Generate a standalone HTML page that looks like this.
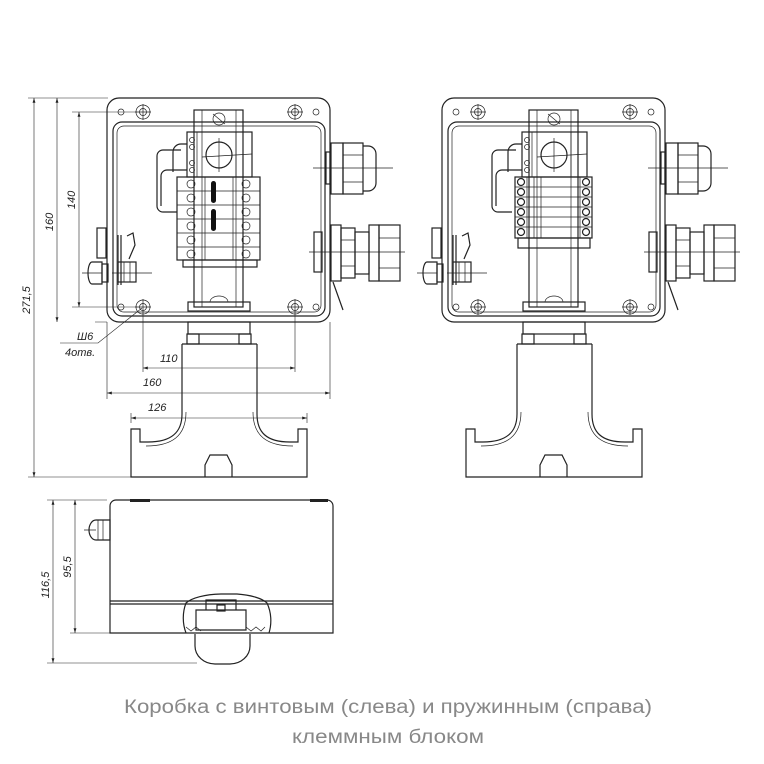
<!DOCTYPE html>
<html><head><meta charset="utf-8"><style>
html,body{margin:0;padding:0;background:#fff;width:764px;height:764px;overflow:hidden}
svg{display:block}
.l{fill:none;stroke:#222;stroke-width:1.2}
.t{fill:none;stroke:#222;stroke-width:0.7}
.d{fill:none;stroke:#222;stroke-width:0.6}
.dim{font-family:"Liberation Sans",sans-serif;font-size:11px;font-style:italic;fill:#222}
</style></head><body>
<svg width="764" height="764" viewBox="0 0 764 764" xmlns="http://www.w3.org/2000/svg">
<defs>
<marker id="a" viewBox="0 0 10 6" refX="10" refY="3" markerWidth="8" markerHeight="5" orient="auto-start-reverse"><path d="M0,0 L10,3 L0,6" fill="#222"/></marker>
<g id="box">
 <rect class="l" x="107" y="98" width="223" height="224" rx="12"/>
 <rect class="l" x="113" y="122" width="212" height="194" rx="9"/>
 <rect class="t" x="117" y="126" width="204" height="186" rx="7"/>
 <g class="t">
  <circle cx="143" cy="112" r="7"/><circle cx="143" cy="112" r="3.5"/>
  <circle cx="295" cy="112" r="7"/><circle cx="295" cy="112" r="3.5"/>
  <circle cx="143" cy="307" r="7"/><circle cx="143" cy="307" r="3.5"/>
  <circle cx="295" cy="307" r="7"/><circle cx="295" cy="307" r="3.5"/>
  <circle cx="121" cy="112" r="3"/><circle cx="316" cy="112" r="3"/>
  <circle cx="121" cy="307" r="3"/><circle cx="316" cy="307" r="3"/>
  <path d="M135,112h16M143,104v16M287,112h16M295,104v16M135,307h16M143,299v16M287,307h16M295,299v16"/>
 </g>
 <rect class="l" x="194" y="110" width="49" height="197"/>
 <path class="t" d="M202,110v197M236,110v197"/>
 <circle class="t" cx="219" cy="119" r="6"/>
 <path class="t" d="M213,114l12,10"/>
 <rect class="l" x="187" y="132" width="65" height="45" fill="#fff"/>
 <circle class="l" cx="219" cy="155" r="13"/>
 <path class="t" d="M219,138v34M202,157l50,-3M197,132v45M236,132v45"/>
 <circle class="t" cx="192" cy="140" r="2.5"/><circle class="t" cx="192" cy="147" r="2.5"/>
 <circle class="t" cx="192" cy="163" r="2.5"/><circle class="t" cx="192" cy="170" r="2.5"/>
 <rect class="l" x="188" y="302" width="62" height="9"/>
 <path class="t" d="M210,302a9,6 0 0 1 18,0"/>
 <path class="l" d="M187,144h-6a8,8 0 0 0 -8,8v20M181,150h-18a6,6 0 0 0 -6,6v50a6,6 0 0 0 6,6h14M187,170h-20a6,6 0 0 0 -6,6v30"/>
 <rect class="l" x="188" y="322" width="62" height="12"/>
 <rect class="l" x="187" y="334" width="12" height="10"/>
 <rect class="l" x="239" y="334" width="12" height="10"/>
 <path class="l" d="M182,344h75M182,344v70M257,344v70"/>
 <path class="l" d="M182,414C182,432 172,442 148,442h-8v-13h-9v48h176v-13v-35h-9v13h-8C266,442 257,432 257,414"/>
 <path class="t" d="M186,412C186,436 172,446 146,446"/>
 <path class="t" d="M253,412C253,436 267,446 293,446"/>
 <path class="l" d="M205,477v-12l5,-10h17l5,10v12"/>
 <rect class="l" x="331" y="143" width="12" height="51"/>
 <rect class="l" x="343" y="143" width="20" height="51"/>
 <path class="l" d="M363,146h5a8,8 0 0 1 8,8v29a8,8 0 0 1 -8,8h-5"/>
 <path class="t" d="M343,155h20M343,182h20M313,168h80"/>
 <rect class="l" x="326" y="152" width="4" height="32"/>
 <rect class="l" x="331" y="225" width="10" height="56"/>
 <rect class="l" x="341" y="228" width="14" height="50"/>
 <rect class="l" x="355" y="232" width="14" height="42"/>
 <rect class="l" x="369" y="225" width="10" height="56"/>
 <rect class="l" x="379" y="225" width="21" height="56"/>
 <path class="t" d="M341,240h14M341,266h14M379,238h21M379,268h21M309,252h96"/>
 <rect class="l" x="314" y="232" width="8" height="40"/>
 <path class="l" d="M333,282l10,28"/>
 <rect class="l" x="97" y="228" width="9" height="30"/>
 <path class="l" d="M92,262h10v22h-10a4,11 0 0 1 0,-22z"/>
 <rect class="l" x="102" y="264" width="6" height="18"/>
 <path class="t" d="M82,273h20"/>
 <rect class="l" x="118" y="262" width="18" height="20"/>
 <path class="t" d="M112,273h40M124,262v20M130,262v20"/>
 <path class="l" d="M118,235v50M121,235v50"/>
 <path class="l" d="M127,236l6,-3l2,12l-6,14"/>
</g>
</defs>

<use href="#box"/>
<use href="#box" transform="translate(335,0)"/>

<g>
 <rect class="l" x="177" y="177" width="83" height="83" fill="#fff"/>
 <rect class="l" x="183" y="260" width="74" height="7"/>
 <path class="t" d="M177,191h83M177,205h83M177,219h83M177,233h83M177,247h83M205,177v83M233,177v83"/>
 <g class="t"><circle cx="191" cy="184" r="4"/><circle cx="191" cy="198" r="4"/><circle cx="191" cy="212" r="4"/><circle cx="191" cy="226" r="4"/><circle cx="191" cy="240" r="4"/><circle cx="191" cy="254" r="4"/>
 <circle cx="246" cy="184" r="4"/><circle cx="246" cy="198" r="4"/><circle cx="246" cy="212" r="4"/><circle cx="246" cy="226" r="4"/><circle cx="246" cy="240" r="4"/><circle cx="246" cy="254" r="4"/></g>
 <rect x="211" y="181" width="5" height="22" rx="2.5" fill="#111"/>
 <rect x="211" y="209" width="5" height="22" rx="2.5" fill="#111"/>
</g>
<g>
 <rect class="l" x="515" y="177" width="77" height="61" fill="#fff"/>
 <rect class="l" x="518" y="238" width="72" height="10"/>
 <path class="t" d="M515,187h77M515,197h77M515,207h77M515,217h77M515,227h77M527,177v61M534,177v61M541,177v61M580,177v61"/>
 <g class="l"><circle cx="521" cy="182" r="3.5"/><circle cx="521" cy="192" r="3.5"/><circle cx="521" cy="202" r="3.5"/><circle cx="521" cy="212" r="3.5"/><circle cx="521" cy="222" r="3.5"/><circle cx="521" cy="232" r="3.5"/>
 <circle cx="586" cy="182" r="3.5"/><circle cx="586" cy="192" r="3.5"/><circle cx="586" cy="202" r="3.5"/><circle cx="586" cy="212" r="3.5"/><circle cx="586" cy="222" r="3.5"/><circle cx="586" cy="232" r="3.5"/></g>
</g>

<g class="d">
 <path d="M28,98h80M28,477h103M50,98h57M72,112h65M72,307h65M95,322h12"/>
 <path d="M34,98V477" marker-start="url(#a)" marker-end="url(#a)"/>
 <path d="M57,98V322" marker-start="url(#a)" marker-end="url(#a)"/>
 <path d="M79,112V307" marker-start="url(#a)" marker-end="url(#a)"/>
 <path d="M143,315v57M295,315v57M107,322v77M330,322v77M131,413v10M307,413v10"/>
 <path d="M143,368H295" marker-start="url(#a)" marker-end="url(#a)"/>
 <path d="M107,393H330" marker-start="url(#a)" marker-end="url(#a)"/>
 <path d="M131,418H307" marker-start="url(#a)" marker-end="url(#a)"/>
 <path d="M142,308L98,343H60"/>
</g>
<text class="dim" transform="translate(30,300) rotate(-90)" text-anchor="middle">271,5</text>
<text class="dim" transform="translate(53,222) rotate(-90)" text-anchor="middle">160</text>
<text class="dim" transform="translate(75,200) rotate(-90)" text-anchor="middle">140</text>
<text class="dim" x="77" y="340">Ш6</text>
<text class="dim" x="65" y="356">4отв.</text>
<text class="dim" x="160" y="362">110</text>
<text class="dim" x="143" y="386">160</text>
<text class="dim" x="148" y="411">126</text>

<g>
 <path class="l" d="M110,633V506a6,6 0 0 1 6,-6h211a6,6 0 0 1 6,6v127z"/>
 <path class="l" d="M110,601h223M110,604h223"/>
 <path class="l" d="M186,633a30,36 0 0 1 0,-30a40,14 0 0 1 35,-9h16a40,14 0 0 1 30,9a30,36 0 0 1 2,30"/>
 <path class="l" d="M195,634v12a20,18 0 0 0 20,18h15a20,18 0 0 0 20,-18v-12"/>
 <path class="l" d="M206,600h30v10h-30zM196,610h50v20h-50z"/>
 <path class="t" d="M186,627l5,4l5,-4l5,4M246,627l5,4l5,-4l5,4l4,-4"/>
 <rect class="l" x="217" y="605" width="8" height="6"/>
 <path class="l" d="M110,520h-14a7,10 0 0 0 0,20h14z"/>
 <path class="t" d="M98,520v20M103,520v20M84,530h12"/>
 <rect x="130" y="499" width="20" height="3" fill="#222"/>
 <rect x="310" y="499" width="18" height="3" fill="#222"/>
</g>
<g class="d">
 <path d="M47,500h60M47,663h150M70,633h40"/>
 <path d="M53,500V663" marker-start="url(#a)" marker-end="url(#a)"/>
 <path d="M75,500V633" marker-start="url(#a)" marker-end="url(#a)"/>
</g>
<text class="dim" transform="translate(49,585) rotate(-90)" text-anchor="middle">116,5</text>
<text class="dim" transform="translate(71,567) rotate(-90)" text-anchor="middle">95,5</text>

<text x="388" y="713" text-anchor="middle" textLength="528" lengthAdjust="spacingAndGlyphs" font-family="Liberation Sans, sans-serif" font-size="19" fill="#888">Коробка с винтовым (слева) и пружинным (справа)</text>
<text x="388" y="743" text-anchor="middle" textLength="192" lengthAdjust="spacingAndGlyphs" font-family="Liberation Sans, sans-serif" font-size="19" fill="#888">клеммным блоком</text>
</svg>
</body></html>
